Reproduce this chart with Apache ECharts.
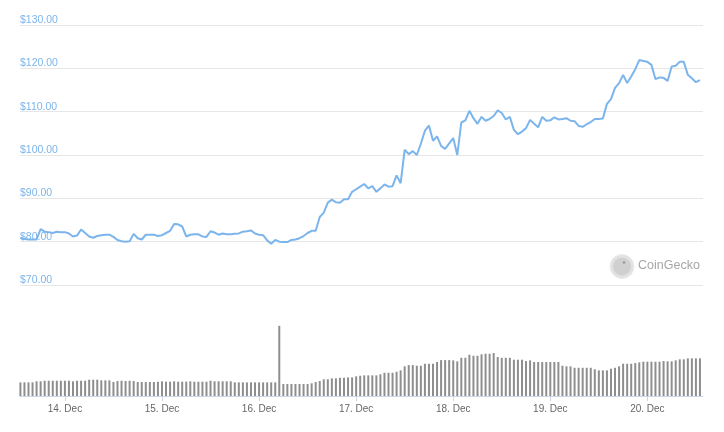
<!DOCTYPE html>
<html><head><meta charset="utf-8">
<script src="https://cdn.jsdelivr.net/npm/echarts@6/dist/echarts.min.js"></script>
<style>html,body{margin:0;padding:0;background:#fff}#c{width:724px;height:432px}</style>
</head><body><div id="c"></div>
<script>
// Hourly data, first point = 13 Dec 13:00 (hours counted from 13 Dec 00:00)
const firstHour = 13;
const prices = [
  81.0, 80.6, 80.5, 80.5, 80.5, 82.9, 82.3, 82.2, 82.0, 82.3,
  82.2, 82.2, 81.9, 81.2, 81.4, 82.8, 82.0, 81.2, 80.9, 81.3,
  81.5, 81.6, 81.6, 81.1, 80.4, 80.1, 80.0, 80.1, 81.8, 80.8,
  80.5, 81.6, 81.6, 81.6, 81.3, 81.5, 82.0, 82.5, 84.1, 84.0,
  83.5, 81.2, 81.6, 81.7, 81.7, 81.2, 81.1, 82.4, 82.1, 81.6,
  81.9, 81.7, 81.7, 81.8, 81.9, 82.3, 82.4, 82.6, 81.9, 81.6,
  81.5, 80.3, 79.5, 80.4, 80.0, 79.9, 79.9, 80.4, 80.5, 80.8,
  81.3, 82.0, 82.5, 82.5, 85.7, 86.7, 89.0, 89.7, 89.1, 89.0,
  89.8, 89.8, 91.5, 92.1, 92.7, 93.3, 92.3, 92.8, 91.5, 92.3,
  93.2, 92.7, 92.8, 95.3, 93.5, 101.2, 100.2, 100.9, 100.0, 102.6,
  105.6, 106.8, 103.3, 104.3, 102.1, 101.4, 102.7, 103.9, 100.0, 107.5,
  108.0, 110.2, 108.5, 107.2, 108.8, 107.9, 108.3, 109.0, 110.3, 109.7,
  108.2, 108.8, 105.8, 104.8, 105.4, 106.2, 108.1, 107.2, 106.4, 108.8,
  107.9, 108.0, 108.7, 108.2, 108.3, 108.5, 107.9, 107.8, 106.7, 106.5,
  107.1, 107.6, 108.3, 108.3, 108.4, 111.8, 112.9, 115.5, 116.6, 118.5,
  116.6, 118.1, 119.8, 121.9, 121.7, 121.5, 120.8, 117.5, 117.9, 117.8,
  117.1, 120.4, 120.6, 121.5, 121.5, 118.5, 117.7, 116.8, 117.3
];
const volumes = [
  14.2, 14.2, 14.2, 14.2, 15.3, 15.3, 15.9, 15.9, 15.9, 15.9,
  15.9, 15.9, 15.9, 15.3, 15.9, 15.9, 15.9, 17.0, 17.0, 17.0,
  16.3, 16.3, 16.3, 14.6, 15.6, 15.9, 15.6, 15.9, 15.6, 14.6,
  14.6, 14.6, 14.6, 14.6, 14.9, 15.3, 14.9, 14.9, 15.3, 14.9,
  14.9, 14.9, 15.3, 14.9, 14.9, 14.9, 14.9, 15.9, 15.3, 15.3,
  15.3, 15.3, 15.3, 14.2, 14.2, 14.2, 14.2, 14.2, 14.2, 14.2,
  14.2, 14.2, 14.2, 14.2, 73.1, 12.5, 12.5, 12.5, 12.5, 12.5,
  12.5, 12.5, 13.2, 14.6, 15.6, 17.4, 17.4, 18.4, 18.4, 19.0,
  19.0, 19.4, 19.4, 20.5, 21.1, 21.5, 21.5, 21.5, 21.5, 22.6,
  24.2, 24.2, 24.2, 25.3, 26.7, 30.9, 32.2, 32.2, 31.5, 31.5,
  33.6, 33.6, 33.6, 35.4, 37.4, 37.4, 37.4, 37.1, 36.1, 39.8,
  39.8, 43.0, 41.9, 41.9, 43.4, 44.0, 44.0, 44.7, 40.6, 39.8,
  39.8, 39.8, 37.8, 37.8, 37.8, 36.4, 37.1, 35.4, 35.4, 35.4,
  35.4, 35.4, 35.4, 35.4, 31.5, 30.9, 30.9, 29.4, 29.4, 29.4,
  29.4, 29.4, 27.8, 26.7, 26.7, 26.7, 28.4, 29.4, 30.9, 33.6,
  33.6, 33.6, 34.3, 35.0, 35.7, 35.7, 35.7, 35.7, 35.7, 36.4,
  36.1, 36.1, 37.1, 38.2, 38.2, 39.2, 39.2, 39.2, 39.2
];
const tickHours = [24, 48, 72, 96, 120, 144, 168];
const tickLabels = ['14. Dec', '15. Dec', '16. Dec', '17. Dec', '18. Dec', '19. Dec', '20. Dec'];

const priceData = prices.map((v, i) => [firstHour + i, v]);
const volData = volumes.map((v, i) => [firstHour + i, v]);
const xMin = 12.9, xMax = 181.75;
const font = "'Liberation Sans', Arial, sans-serif";

const chart = echarts.init(document.getElementById('c'), null, {renderer: 'canvas'});
chart.setOption({
  animation: false,
  backgroundColor: '#ffffff',
  grid: [
    {left: 20, right: 21, top: 25, height: 260},
    {left: 20, right: 21, top: 300, height: 96}
  ],
  xAxis: [
    {type: 'value', gridIndex: 0, min: xMin, max: xMax, show: false, splitLine: {show: false}},
    {type: 'value', gridIndex: 1, min: xMin, max: xMax,
     axisLine: {show: true, lineStyle: {color: '#ccd6eb', width: 1}},
     axisTick: {show: true, length: 5, lineStyle: {color: '#ccd6eb'}, customValues: tickHours},
     axisLabel: {customValues: tickHours, color: '#666666', fontSize: 10, fontFamily: font, margin: 8,
       formatter: v => tickLabels[tickHours.indexOf(v)] || ''},
     splitLine: {show: false}}
  ],
  yAxis: [
    {type: 'value', gridIndex: 0, min: 70, max: 130, interval: 10,
     axisLine: {show: false}, axisTick: {show: false},
     splitLine: {show: true, lineStyle: {color: '#e6e6e6', width: 1}},
     axisLabel: {inside: true, margin: 0, verticalAlign: 'bottom', align: 'left',
       color: '#7cb5ec', fontSize: 10.5, lineHeight: 10, fontFamily: font, padding: [0, 0, 0, 0],
       formatter: v => '$' + v.toFixed(2)}},
    {type: 'value', gridIndex: 1, min: 0, max: 100, show: false, splitLine: {show: false}}
  ],
  series: [
    {type: 'line', xAxisIndex: 0, yAxisIndex: 0, data: priceData, showSymbol: false,
     lineStyle: {color: '#7cb5ec', width: 2}, itemStyle: {color: '#7cb5ec'}},
    {type: 'bar', xAxisIndex: 1, yAxisIndex: 1, data: volData, barWidth: 2,
     itemStyle: {color: '#8e8e8e'}}
  ],
  graphic: [
    {type: 'circle', shape: {cx: 622, cy: 266.5, r: 12}, style: {fill: '#e2e2e2', stroke: '#ececec', lineWidth: 1}},
    {type: 'circle', shape: {cx: 622, cy: 266.5, r: 9}, style: {fill: '#d0d0d0'}},
    {type: 'circle', shape: {cx: 624, cy: 262.5, r: 1.3}, style: {fill: '#9a9a9a'}},
    {type: 'text', left: 638, top: 259, style: {text: 'CoinGecko', fill: '#a6a6a6', fontSize: 12.5, fontFamily: font}}
  ]
});
</script>
</body></html>
